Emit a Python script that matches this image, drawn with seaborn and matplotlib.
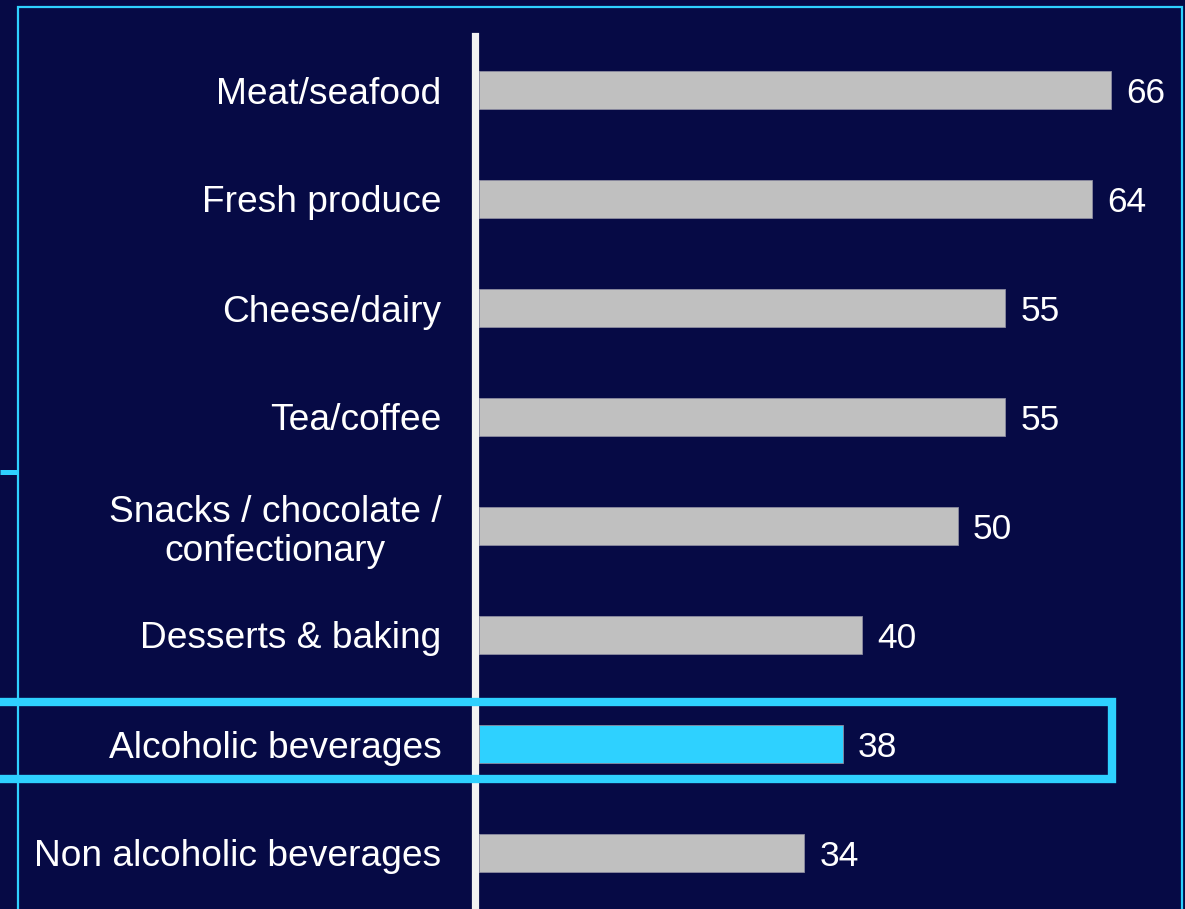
import matplotlib
matplotlib.use("Agg")
import matplotlib.pyplot as plt
from matplotlib.patches import Rectangle
from matplotlib.lines import Line2D
import seaborn as sns
import pandas as pd

categories = [
    "Meat/seafood",
    "Fresh produce",
    "Cheese/dairy",
    "Tea/coffee",
    "Snacks / chocolate /\nconfectionary",
    "Desserts & baking",
    "Alcoholic beverages",
    "Non alcoholic beverages",
]
values = [66, 64, 55, 55, 50, 40, 38, 34]
highlight = "Alcoholic beverages"

BG = "#060A45"
GREY = "#C0C0C0"
CYAN = "#2ED1FF"
WHITE = "#FFFFFF"

W, H, DPI = 1185, 909, 100

sns.set_theme(style="white")
plt.rcParams["font.family"] = ["Liberation Sans", "DejaVu Sans"]

df = pd.DataFrame({"category": categories, "value": values})
palette = {c: (CYAN if c == highlight else GREY) for c in categories}

fig = plt.figure(figsize=(W / DPI, H / DPI), dpi=DPI, facecolor=BG)


def fx(px):
    return px / W


def fy(py):
    return 1 - py / H


# axes placed in pixel space: left spine at ~475px, rows 109px apart
ax_left, ax_top, ax_bottom = 475.5, 35.5, 907.5
row_px = (ax_bottom - ax_top) / len(categories)
ax = fig.add_axes([fx(ax_left), fy(ax_bottom), 1 - fx(ax_left), (ax_bottom - ax_top) / H])
ax.set_facecolor(BG)

sns.barplot(
    data=df, x="value", y="category", hue="category", palette=palette,
    legend=False, orient="h", width=0.35, ax=ax,
    edgecolor="#8C8CA0", linewidth=0.6, saturation=1,
)

px_per_unit = 9.571
offset = 3.5 / px_per_unit
ax.set_xlim(-offset, (W - ax_left) / px_per_unit - offset)
ax.set_ylim(len(categories) - 0.5, -0.5)

for s in ["top", "right", "bottom"]:
    ax.spines[s].set_visible(False)
ax.spines["left"].set_color("#F2F2F2")
ax.spines["left"].set_linewidth(5.2)
ax.set_xticks([])
ax.set_xlabel("")
ax.set_ylabel("")
ax.tick_params(axis="y", length=0, pad=24.4, labelsize=26.7, labelcolor=WHITE)
for lbl in ax.get_yticklabels():
    lbl.set_multialignment("center")
    lbl.set_linespacing(1.15)

# value labels, baseline set so the digits sit centred on each bar
value_size = 25.5
cap_px = 0.716 * value_size * DPI / 72
for i, v in enumerate(values):
    ax.text(v + 1.6, i + (cap_px / 2) / row_px, f"{v}", va="baseline", ha="left",
            color=WHITE, fontsize=value_size)

# outer frame and connector stub
fig.patches.append(Rectangle((fx(18.3), fy(960)), fx(1182) - fx(18.3), fy(7.3) - fy(960),
                             transform=fig.transFigure, fill=False, edgecolor=CYAN,
                             linewidth=1.6, zorder=5))
fig.lines.append(Line2D([fx(0), fx(18.3)], [fy(472), fy(472)], transform=fig.transFigure,
                        color=CYAN, linewidth=3.6, solid_capstyle="butt", zorder=5))

# highlight box around the emphasised row
fig.patches.append(Rectangle((fx(-20), fy(778.7)), fx(1111.5) - fx(-20), fy(702.3) - fy(778.7),
                             transform=fig.transFigure, fill=False, edgecolor=CYAN,
                             linewidth=6, zorder=6))

fig.savefig("out.png", dpi=DPI, facecolor=BG)
